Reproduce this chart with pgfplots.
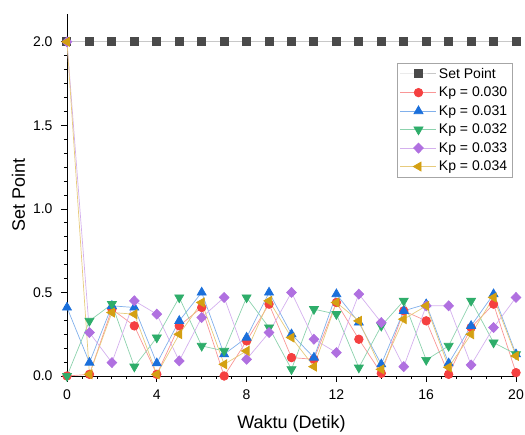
\documentclass[border=0pt]{standalone}
\usepackage{fontspec}
\setmainfont{Liberation Sans}
\usepackage{pgfplots}
\pgfplotsset{compat=1.18}
\definecolor{cred}{RGB}{245,64,64}
\definecolor{cblue}{RGB}{26,111,219}
\definecolor{cgreen}{RGB}{46,173,106}
\definecolor{cpurple}{RGB}{176,112,224}
\definecolor{cgold}{RGB}{212,160,18}
\definecolor{csq}{RGB}{74,74,74}
\definecolor{csqline}{RGB}{200,200,200}
\begin{document}
\begin{tikzpicture}
\begin{axis}[
  scale only axis, width=449pt, height=362pt,
  xmin=0, xmax=20, ymin=0, ymax=2.16667,
  axis lines=left, axis line style={-, line width=0.9pt, black},
  xtick={0,4,8,12,16,20}, ytick={0,0.5,1,1.5,2},
  minor x tick num=5, minor y tick num=5,
  tick align=outside, major tick length=6pt, minor tick length=3pt,
  every tick/.style={black, line width=0.8pt},
  ticklabel style={font=\fontsize{14}{16}\selectfont},
  /pgf/number format/assume math mode=true,
  yticklabel style={xshift=-5pt, /pgf/number format/.cd, fixed, fixed zerofill, precision=1},
  xticklabel style={yshift=-4pt},
  xlabel={Waktu (Detik)}, ylabel={Set Point},
  label style={font=\fontsize{18}{21}\selectfont},
  xlabel style={yshift=-9pt},
  ylabel style={yshift=1pt},
  legend style={at={(0.992,0.865)}, anchor=north east, draw=gray!70, line width=0.6pt,
    font=\fontsize{14}{17}\selectfont, row sep=3.2pt, inner xsep=3pt, inner ysep=3pt},
  legend cell align=left,
  legend image code/.code={\draw[mark repeat=2,mark phase=2] plot coordinates {(0pt,0pt) (18pt,0pt) (36pt,0pt)};},
  clip=false,
]
\addplot[csqline, line width=1pt, mark=square*, mark size=4pt, mark options={fill=csq, draw=csq}]
 coordinates {(0,2)(1,2)(2,2)(3,2)(4,2)(5,2)(6,2)(7,2)(8,2)(9,2)(10,2)(11,2)(12,2)(13,2)(14,2)(15,2)(16,2)(17,2)(18,2)(19,2)(20,2)};
\addlegendentry{Set Point}
\addplot[cred!55!white, line width=0.7pt, mark=*, mark size=4.3pt, mark options={fill=cred, draw=cred}]
 coordinates {(0,0)(1,0.01)(2,0.40)(3,0.30)(4,0.01)(5,0.30)(6,0.41)(7,0.0)(8,0.21)(9,0.43)(10,0.11)(11,0.10)(12,0.44)(13,0.22)(14,0.016)(15,0.39)(16,0.33)(17,0.01)(18,0.29)(19,0.43)(20,0.02)};
\addlegendentry{Kp = 0.030}
\addplot[cblue!55!white, line width=0.7pt, mark=triangle*, mark size=5.2pt, mark options={fill=cblue, draw=cblue}]
 coordinates {(0,0.41)(1,0.08)(2,0.42)(3,0.41)(4,0.076)(5,0.33)(6,0.50)(7,0.13)(8,0.23)(9,0.50)(10,0.25)(11,0.11)(12,0.49)(13,0.32)(14,0.07)(15,0.39)(16,0.43)(17,0.076)(18,0.30)(19,0.49)(20,0.13)};
\addlegendentry{Kp = 0.031}
\addplot[cgreen!55!white, line width=0.7pt, mark=triangle*, mark size=5.2pt, mark options={fill=cgreen, draw=cgreen, rotate=180}]
 coordinates {(0,0)(1,0.33)(2,0.43)(3,0.056)(4,0.23)(5,0.47)(6,0.18)(7,0.15)(8,0.47)(9,0.29)(10,0.04)(11,0.40)(12,0.37)(13,0.05)(14,0.30)(15,0.45)(16,0.096)(17,0.18)(18,0.45)(19,0.20)(20,0.13)};
\addlegendentry{Kp = 0.032}
\addplot[cpurple!55!white, line width=0.7pt, mark=diamond*, mark size=5pt, mark options={fill=cpurple, draw=cpurple, xscale=1.3}]
 coordinates {(0,2)(1,0.26)(2,0.08)(3,0.45)(4,0.37)(5,0.09)(6,0.35)(7,0.47)(8,0.10)(9,0.26)(10,0.50)(11,0.22)(12,0.14)(13,0.49)(14,0.32)(15,0.056)(16,0.42)(17,0.42)(18,0.066)(19,0.29)(20,0.47)};
\addlegendentry{Kp = 0.033}
\addplot[cgold!55!white, line width=0.7pt, mark=triangle*, mark size=5.2pt, mark options={fill=cgold, draw=cgold, rotate=90}]
 coordinates {(0,2)(1,0.01)(2,0.38)(3,0.37)(4,0.01)(5,0.25)(6,0.44)(7,0.07)(8,0.15)(9,0.45)(10,0.23)(11,0.056)(12,0.44)(13,0.33)(14,0.04)(15,0.34)(16,0.42)(17,0.052)(18,0.25)(19,0.47)(20,0.12)};
\addlegendentry{Kp = 0.034}
\end{axis}
\pgfresetboundingbox
\path[use as bounding box] ([shift={(-67pt,-59pt)}]current axis.south west) rectangle ([shift={(9pt,14pt)}]current axis.north east);
\end{tikzpicture}
\end{document}
